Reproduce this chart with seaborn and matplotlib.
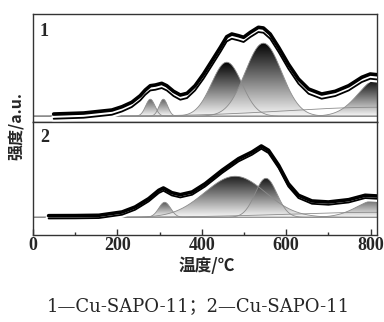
import numpy as np
import pandas as pd
import seaborn as sns
import matplotlib.pyplot as plt
import matplotlib.transforms as mtransforms
from matplotlib.colors import LinearSegmentedColormap

temp_1 = [49, 120, 187, 211, 234, 254, 266, 278, 290, 305, 317, 333, 349, 365, 384, 404,
          424, 444, 459, 471, 487, 499, 515, 534, 546, 562, 582, 605, 629, 653, 684, 716,
          748, 779, 799, 815]
signal_1 = [7.7, 8.7, 11.7, 15.0, 19.4, 26, 31.7, 36, 36.7, 38.4, 36, 30.4, 26.7, 28.4, 36, 47.7,
            61, 74.4, 85, 87.7, 86, 84.4, 89.4, 94.4, 93.7, 87.7, 74.4, 57.7, 42.7, 32.7, 27.7, 30.4,
            36, 44.4, 47.7, 47]

temp_2 = [37, 100, 156, 211, 242, 274, 298, 309, 329, 349, 377, 408, 448, 487, 519, 541,
          558, 582, 605, 629, 661, 700, 748, 787, 815]
signal_2 = [19.6, 19.7, 20, 23.3, 28.3, 36.6, 45, 47.3, 42.6, 40.6, 43.3, 51.6, 65, 76.6, 83.3, 89.3,
            85, 70, 51.6, 40, 34.3, 33.3, 35.6, 40, 39.3]

# fitted gaussian components (centre, height above baseline, sigma)
base_1 = 5.5
centre_1 = [278, 309, 459, 546, 820, 820]
height_1 = [17, 17, 54, 73, 38, 9]
sigma_1 = [11, 10, 36, 43, 48, 220]
shade_1 = [0.6, 0.6, 1.0, 1.0, 1.0, 0.0]

base_2 = 18
centre_2 = [312, 479, 552, 820, 820]
height_2 = [15, 41, 39, 18, 5]
sigma_2 = [14, 72, 26, 50, 220]
shade_2 = [0.65, 0.9, 0.9, 0.6, 0.0]

ticks = [0, 200, 400, 600, 800]
minor_ticks = [100, 300, 500, 700]

sns.set_style("ticks")
plt.rcParams['font.family'] = ['Liberation Serif', 'Noto Sans CJK SC']

grey = LinearSegmentedColormap.from_list('grey', ['#f6f6f6', '#000000'])
T = np.linspace(0, 815, 600)


def draw_panel(ax, temp, signal, base, centres, heights, sigmas, shades, shift):
    for c, h, s, shade in zip(centres, heights, sigmas, shades):
        curve = base + h * np.exp(-(T - c) ** 2 / (2 * s ** 2))
        if shade > 0:
            poly = ax.fill_between(T, base, curve, color='none', lw=0)
            grad = np.linspace(0, shade, 256).reshape(-1, 1)
            im = ax.imshow(grad, cmap=grey, vmin=0, vmax=1, origin='lower', aspect='auto',
                           extent=[T[0], T[-1], base, curve.max()], zorder=1)
            im.set_clip_path(poly.get_paths()[0], ax.transData)
        ax.plot(T, curve, color='0.55', lw=0.6, zorder=2)

    df = pd.DataFrame({'temp': temp, 'signal': signal})
    offset = ax.transData + mtransforms.ScaledTranslation(0, -shift / 72, ax.figure.dpi_scale_trans)
    kw = dict(solid_joinstyle='round', solid_capstyle='round')
    sns.lineplot(data=df, x='temp', y='signal', ax=ax, color='white', lw=4.5, zorder=3, **kw)
    ax.lines[-1].set_transform(offset)
    sns.lineplot(data=df, x='temp', y='signal', ax=ax, color='black', lw=1.3, zorder=4, **kw)
    ax.lines[-1].set_transform(offset)
    sns.lineplot(data=df, x='temp', y='signal', ax=ax, color='black', lw=2.6, zorder=5, **kw)
    ax.set_xlabel('')
    ax.set_ylabel('')
    ax.set_yticks([])
    for sp in ax.spines.values():
        sp.set_color('#333333')
        sp.set_linewidth(1.0)


fig = plt.figure(figsize=(3.84, 3.22), dpi=100)
ax1 = fig.add_axes([0.0859, 0.622, 0.8958, 0.3345])
ax2 = fig.add_axes([0.0859, 0.2693, 0.8958, 0.3528])

draw_panel(ax1, temp_1, signal_1, base_1, centre_1, height_1, sigma_1, shade_1, 3.4)
draw_panel(ax2, temp_2, signal_2, base_2, centre_2, height_2, sigma_2, shade_2, 2.0)

ax1.set_xlim(0, 815)
ax1.set_ylim(0, 107.7)
ax1.set_xticks([])
ax2.set_xlim(0, 815)
ax2.set_ylim(0, 113.6)
ax2.set_xticks(ticks)
ax2.set_xticks(minor_ticks, minor=True)
ax2.set_xticklabels([str(t) for t in ticks], fontsize=13, fontweight='bold')
ax2.tick_params(axis='x', which='major', direction='in', length=4, width=1, pad=1, color='#333333')
ax2.tick_params(axis='x', which='minor', direction='in', length=2, width=1, color='#333333')

ax1.text(0.02, 0.84, '1', transform=ax1.transAxes, fontsize=13, fontweight='bold', va='center')
ax2.text(0.02, 0.865, '2', transform=ax2.transAxes, fontsize=13, fontweight='bold', va='center')

fig.text(0.539, 0.174, '温度/℃', ha='center', va='center', fontsize=12, fontweight='bold',
         family=['Noto Sans CJK SC', 'DejaVu Sans'])
fig.text(0.045, 0.61, '强度/a.u.', ha='center', va='center', rotation=90, fontsize=11.5,
         fontweight='bold', family=['Noto Sans CJK SC', 'DejaVu Sans'])
fig.text(0.516, 0.05, '1—Cu-SAPO-11；2—Cu-SAPO-11', ha='center', va='center', fontsize=13,
         family=['DejaVu Serif', 'Noto Sans CJK SC'])

fig.savefig('out.png', dpi=100)
